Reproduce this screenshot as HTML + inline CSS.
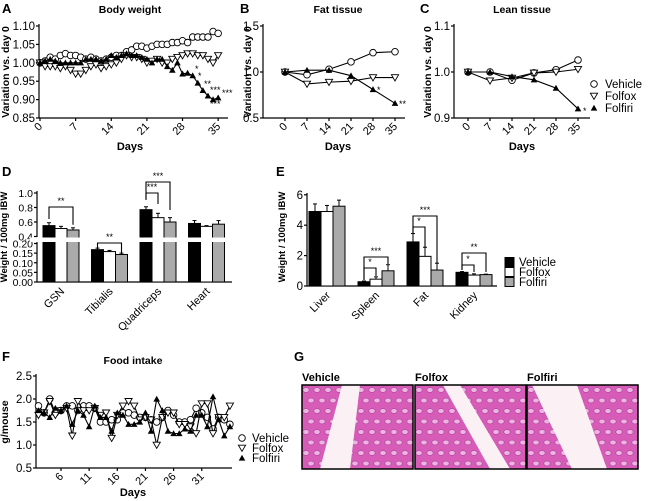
<!DOCTYPE html>
<html><head><meta charset="utf-8"><style>
body{margin:0;background:#fff}
svg{display:block;font-family:"Liberation Sans",Arial,sans-serif}
</style></head><body>
<svg id="fig" width="650" height="501" viewBox="0 0 650 501"></svg>
<script>
// ---- data ----
const daysA=[0,1,2,3,4,5,6,7,8,9,10,11,12,13,14,15,16,17,18,19,20,21,22,23,24,25,26,27,28,29,30,31,32,33,34,35];
const bwVehicle=[1.00,1.005,1.015,1.01,1.02,1.025,1.02,1.02,1.015,1.01,1.015,1.01,1.005,1.01,1.015,1.02,1.02,1.03,1.035,1.045,1.045,1.04,1.045,1.05,1.05,1.05,1.055,1.055,1.06,1.055,1.07,1.07,1.07,1.07,1.085,1.08];
const bwFolfox=[1.0,0.99,0.99,0.99,0.985,0.99,0.98,0.97,0.97,0.98,0.99,0.995,0.985,0.99,0.995,1.0,1.01,1.02,1.015,1.015,1.01,1.0,1.005,1.01,1.0,1.0,1.01,1.015,1.02,1.025,1.025,1.02,1.02,1.01,1.0,1.02];
const bwFolfiri=[1.0,1.005,1.01,1.005,1.0,1.0,1.0,1.0,1.0,1.01,1.01,1.01,1.005,1.01,1.02,1.015,1.02,1.025,1.02,1.02,1.015,1.01,1.0,1.01,1.01,0.99,0.98,1.0,0.97,0.972,0.965,0.945,0.925,0.91,0.90,0.905];
const daysBC=[0,7,14,21,28,35];
const fatVehicle=[1.0,0.97,1.03,1.11,1.21,1.22];
const fatFolfox=[1.0,0.87,0.89,0.90,0.94,0.94];
const fatFolfiri=[1.0,1.02,1.02,0.96,0.81,0.66];
const leanVehicle=[1.0,1.0,0.982,0.998,1.005,1.026];
const leanFolfox=[1.0,0.981,0.987,0.998,1.0,1.006];
const leanFolfiri=[1.0,1.0,0.99,0.983,0.965,0.92];
const muscleCats=["GSN","Tibialis","Quadriceps","Heart"];
const muscleVehicle=[0.55,0.168,0.77,0.58];
const muscleFolfox=[0.51,0.158,0.66,0.54];
const muscleFolfiri=[0.49,0.143,0.60,0.57];
const muscleErr=[[0.04,0.03,0.03],[0.008,0.006,0.007],[0.04,0.06,0.06],[0.04,0.01,0.05]];
const organCats=["Liver","Spleen","Fat","Kidney"];
const organVehicle=[4.9,0.28,2.9,0.9];
const organFolfox=[4.9,0.45,1.95,0.72];
const organFolfiri=[5.25,1.0,1.05,0.75];
const organErr=[[0.5,0.4,0.4],[0.05,0.15,0.4],[0.55,0.6,0.45],[0.05,0.08,0.03]];
const daysF=[2,3,4,5,6,7,8,9,10,11,12,13,14,15,16,17,18,19,20,21,22,23,24,25,26,27,28,29,30,31,32,33,34,35,36];
const foodVehicle=[1.85,1.7,2.0,1.7,1.75,1.85,1.85,1.75,1.85,1.85,1.8,1.5,1.5,1.55,1.55,1.7,1.7,1.65,1.6,1.6,1.55,1.5,1.6,1.75,1.65,1.5,1.5,1.55,1.8,1.7,1.6,1.35,1.6,1.55,1.45];
const foodFolfox=[1.65,1.7,1.95,1.65,1.75,1.8,1.2,1.95,1.75,1.75,1.8,1.65,1.7,1.15,1.65,1.85,1.95,1.85,1.55,1.6,1.55,1.0,1.6,1.7,1.7,1.45,1.45,1.4,1.25,1.9,1.9,1.25,1.6,1.6,1.85];
const foodFolfiri=[1.75,1.7,1.6,1.8,1.75,1.85,1.45,1.75,1.65,1.4,1.85,1.6,1.6,1.3,1.7,1.65,1.45,1.45,1.5,1.7,1.3,2.0,1.75,1.3,1.25,1.25,1.35,1.3,1.65,1.65,1.4,2.05,1.55,1.2,1.4];

const NS="http://www.w3.org/2000/svg";
const svg=document.getElementById('fig');
function mk(tag,a,p){const e=document.createElementNS(NS,tag);for(const k in a)e.setAttribute(k,a[k]);(p||svg).appendChild(e);return e;}
function txt(s,x,y,a,name){const e=mk('text',Object.assign({x:x,y:y,'font-size':11,fill:'#000'},a||{}));e.textContent=s;


return e;}
function line(x1,y1,x2,y2,name,w){const e=mk('line',{x1:x1,y1:y1,x2:x2,y2:y2,stroke:'#000','stroke-width':w||1.2});


return e;}
function marker(type,x,y,name){let e;
 if(type==='circle')e=mk('circle',{cx:x,cy:y,r:3.3,fill:'#fff',stroke:'#000','stroke-width':0.9});
 else if(type==='down')e=mk('path',{d:`M${x-3.6},${y-2.8}L${x+3.6},${y-2.8}L${x},${y+3.4}Z`,fill:'#fff',stroke:'#000','stroke-width':0.9});
 else e=mk('path',{d:`M${x-3.3},${y+2.6}L${x+3.3},${y+2.6}L${x},${y-3.3}Z`,fill:'#000'});
 
 }
function series(xs,ys,fx,fy,type,name){const pts=xs.map((d,i)=>fx(d)+','+fy(ys[i])).join(' ');
 const pl=mk('polyline',{points:pts,fill:'none',stroke:'#000','stroke-width':1.1});
 
 
 xs.forEach((d,i)=>marker(type,fx(d),fy(ys[i]),name+'-point'));}
function xTicks(vals,fx,y0,name){vals.forEach(v=>{line(fx(v),y0,fx(v),y0+3,name+'-tick');
 txt(String(v),fx(v)+3,y0+9,{'text-anchor':'end','font-size':11,transform:`rotate(-45 ${fx(v)+3} ${y0+9})`},name+'-label');});}
function yTicks(vals,fy,x0,name,fmt,fs){vals.forEach(v=>{line(x0-3,fy(v),x0,fy(v),name+'-tick');
 txt(fmt(v),x0-4,fy(v)+4,{'text-anchor':'end','font-size':fs||11.5},name+'-label');});}
function bold(s,x,y,size,name,anchor){return txt(s,x,y,{'font-weight':'bold','font-size':size,'text-anchor':anchor||'start'},name);}

// ---- Panel A ----
const xA=d=>40+d*5.09, yA=v=>26+(1.10-v)/0.25*92;
bold('A',2,13,13,'panel-a-label');
bold('Body weight',130,13,10.5,'panel-a-title','middle');
line(39,24,39,118,'a-y-axis');line(39,118,228,118,'a-x-axis');
yTicks([0.85,0.90,0.95,1.00,1.05,1.10],yA,39,'a-y-tick',v=>v.toFixed(2));
xTicks([0,7,14,21,28,35],xA,118,'a-x-tick');
bold('Days',130,150,11,'a-x-title','middle');
txt('Variation vs. day 0',9,72,{'font-weight':'bold','font-size':10.5,'text-anchor':'middle',transform:'rotate(-90 9 72)'},'a-y-title');
series(daysA,bwVehicle,xA,yA,'circle','a-vehicle');
series(daysA,bwFolfox,xA,yA,'down','a-folfox');
series(daysA,bwFolfiri,xA,yA,'up','a-folfiri');
[['*',195,72],['*',198,79],['**',204,87],['***',210,93],['***',222,96],['***',210,107]].forEach(s=>txt(s[0],s[1],s[2],{'font-size':9},'a-significance'));

// ---- Panel B ----
const xB=d=>285+d*22/7, yB=v=>26+(1.5-v)*92;
bold('B',240,13,13,'panel-b-label');
bold('Fat tissue',338,13,10.5,'panel-b-title','middle');
line(263,24,263,118,'b-y-axis');line(263,118,405,118,'b-x-axis');
yTicks([0.5,1.0,1.5],yB,263,'b-y-tick',v=>v.toFixed(1));
xTicks(daysBC,xB,118,'b-x-tick');
bold('Days',338,150,11,'b-x-title','middle');
txt('Variation vs. day 0',251,72,{'font-weight':'bold','font-size':10.5,'text-anchor':'middle',transform:'rotate(-90 251 72)'},'b-y-title');
series(daysBC,fatVehicle,xB,yB,'circle','b-vehicle');
series(daysBC,fatFolfox,xB,yB,'down','b-folfox');
series(daysBC,fatFolfiri,xB,yB,'up','b-folfiri');
txt('*',377,93,{'font-size':9},'b-significance');txt('**',399,107,{'font-size':9},'b-significance');

// ---- Panel C ----
const xC=d=>468+d*22/7, yC=v=>26+(1.1-v)/0.2*92;
bold('C',420,13,13,'panel-c-label');
bold('Lean tissue',522,13,10.5,'panel-c-title','middle');
line(454,24,454,118,'c-y-axis');line(454,118,590,118,'c-x-axis');
yTicks([0.9,1.0,1.1],yC,454,'c-y-tick',v=>v.toFixed(1));
xTicks(daysBC,xC,118,'c-x-tick');
bold('Days',522,150,11,'c-x-title','middle');
txt('Variation vs. day 0',431,72,{'font-weight':'bold','font-size':10.5,'text-anchor':'middle',transform:'rotate(-90 431 72)'},'c-y-title');
series(daysBC,leanVehicle,xC,yC,'circle','c-vehicle');
series(daysBC,leanFolfox,xC,yC,'down','c-folfox');
series(daysBC,leanFolfiri,xC,yC,'up','c-folfiri');
txt('*',583,114,{'font-size':9},'c-significance');
[['circle','Vehicle',84],['down','Folfox',96],['up','Folfiri',108]].forEach(l=>{marker(l[0],594,l[2],'legend-abc-marker');txt(l[1],605,l[2]+4,{'font-size':11.5},'legend-abc-entry');});

// ---- Panel D ----
const yD=v=>v>=0.4?236.5-(v-0.4)*72.5:282-v*192.5;
const gxD=i=>61+i*48.5;
const fills=['#000','#fff','#aaa'];
bold('D',2,176,13,'panel-d-label');
line(37,191,37,237,'d-y-axis-upper');line(37,242,37,282,'d-y-axis-lower');line(37,282,232,282,'d-x-axis');
yTicks([0.4,0.6,0.8,1.0],yD,37,'d-y-tick',v=>v.toFixed(1),10.5);
yTicks([0.00,0.05,0.10,0.15,0.20],yD,37,'d-y-tick',v=>v.toFixed(2),10.5);
txt('Weight / 100mg IBW',7,237,{'font-weight':'bold','font-size':9.5,'text-anchor':'middle',transform:'rotate(-90 7 237)'},'d-y-title');
[muscleVehicle,muscleFolfox,muscleFolfiri].forEach((ser,s)=>ser.forEach((v,i)=>{
 const x=gxD(i)-18+s*12, top=yD(v), et=yD(v+muscleErr[i][s]);
 line(x+6,top,x+6,et,'d-error-bar',1);line(x+4,et,x+8,et,'d-error-cap',1);
 const r=mk('rect',{x:x,y:top,width:12,height:282-top,fill:fills[s],stroke:'#000','stroke-width':1});
 
 }));
const brk=mk('rect',{x:30,y:237.5,width:205,height:4.5,fill:'#fff'});


muscleCats.forEach((c,i)=>txt(c,gxD(i)+4,292,{'text-anchor':'end','font-size':11,transform:`rotate(-45 ${gxD(i)+4} 292)`},'d-x-label'));
function bracket(x1,x2,y,y1,y2,lab,name){const p=mk('path',{d:`M${x1},${y1}V${y}H${x2}V${y2}`,fill:'none',stroke:'#000','stroke-width':1.1});
 
 
 txt(lab,(x1+x2)/2,y-3,{'font-size':9,'text-anchor':'middle'},name+'-label');}
bracket(gxD(0)-12,gxD(0)+12,207,yD(0.6)-3,yD(0.52)-3,'**','d-bracket-gsn');
bracket(gxD(1)-12,gxD(1)+12,243,248,253,'**','d-bracket-tibialis');
bracket(gxD(2)-12,gxD(2),193,200,204,'***','d-bracket-quad-folfox');
bracket(gxD(2)-12,gxD(2)+12,182,199,210,'***','d-bracket-quad-folfiri');

// ---- Panel E ----
const yE=v=>286-v*15.2;
const gxE=i=>327+i*49;
bold('E',276,176,13,'panel-e-label');
line(307,193,307,286,'e-y-axis');line(307,286,497,286,'e-x-axis');
yTicks([0,2,4,6],yE,307,'e-y-tick',v=>String(v));
txt('Weight / 100mg IBW',285,237,{'font-weight':'bold','font-size':9.5,'text-anchor':'middle',transform:'rotate(-90 285 237)'},'e-y-title');
[organVehicle,organFolfox,organFolfiri].forEach((ser,s)=>ser.forEach((v,i)=>{
 const x=gxE(i)-18+s*12, top=yE(v), et=yE(v+organErr[i][s]);
 line(x+6,top,x+6,et,'e-error-bar',1);line(x+4,et,x+8,et,'e-error-cap',1);
 const r=mk('rect',{x:x,y:top,width:12,height:286-top,fill:fills[s],stroke:'#000','stroke-width':1});
 
 }));
organCats.forEach((c,i)=>txt(c,gxE(i)+4,296,{'text-anchor':'end','font-size':11,transform:`rotate(-45 ${gxE(i)+4} 296)`},'e-x-label'));
bracket(gxE(1)-12,gxE(1),268,280,276,'*','e-bracket-spleen-folfox');
bracket(gxE(1)-12,gxE(1)+12,257,280,264,'***','e-bracket-spleen-folfiri');
bracket(gxE(2)-12,gxE(2),227,233,247,'*','e-bracket-fat-folfox');
bracket(gxE(2)-12,gxE(2)+12,216,233,263,'***','e-bracket-fat-folfiri');
bracket(gxE(3)-12,gxE(3),265,270,272,'*','e-bracket-kidney-folfox');
bracket(gxE(3)-12,gxE(3)+12,253,270,272,'**','e-bracket-kidney-folfiri');
[['Vehicle',262],['Folfox',272],['Folfiri',282]].forEach((l,s)=>{const r=mk('rect',{x:505,y:l[1]-4.5,width:9,height:9,fill:fills[s],stroke:'#000','stroke-width':1});
 
 
 txt(l[0],519,l[1]+4,{'font-size':11.5},'legend-e-entry');});

// ---- Panel F ----
const xF=d=>61+(d-6)*5.63, yF=v=>376+(2.5-v)*46;
bold('F',2,361,13,'panel-f-label');
bold('Food intake',133,364,10.5,'panel-f-title','middle');
line(36,374,36,468,'f-y-axis');line(36,468,232,468,'f-x-axis');
yTicks([0.5,1.0,1.5,2.0,2.5],yF,36,'f-y-tick',v=>v.toFixed(1));
xTicks([6,11,16,21,26,31],xF,468,'f-x-tick');
bold('Days',133,496,11,'f-x-title','middle');
txt('g/mouse',8,422,{'font-weight':'bold','font-size':10.5,'text-anchor':'middle',transform:'rotate(-90 8 422)'},'f-y-title');
series(daysF,foodVehicle,xF,yF,'circle','f-vehicle');
series(daysF,foodFolfox,xF,yF,'down','f-folfox');
series(daysF,foodFolfiri,xF,yF,'up','f-folfiri');
[['circle','Vehicle',438],['down','Folfox',448],['up','Folfiri',458]].forEach(l=>{marker(l[0],242,l[2],'legend-f-marker');txt(l[1],252,l[2]+4,{'font-size':11.5},'legend-f-entry');});

// ---- Panel G ----
bold('G',294,361,13,'panel-g-label');
const imgs=[['Vehicle',302],['Folfox',415],['Folfiri',527]];
const bands=[[[40,0],[58,0],[48,84],[18,84]],[[28,0],[45,0],[95,84],[75,84]],[[5,0],[50,0],[80,84],[45,84]]];
imgs.forEach((im,k)=>{const x0=im[1],y0=385,w=111,h=84;
 bold(im[0],x0,381,11,'g-label-'+im[0].toLowerCase());
 const g=mk('g',{});
 
 
 mk('rect',{x:x0,y:y0,width:w,height:h,fill:'#d65cb8'},g);
 for(let r=0;r<8;r++)for(let c=0;c<10;c++){mk('ellipse',{cx:x0+4+c*11+(r%2)*5,cy:y0+5+r*10.5,rx:3.2,ry:2.4,fill:'#eeb3e0',stroke:'#a8409a','stroke-width':0.6},g);}
 mk('polygon',{points:bands[k].map(p=>(x0+p[0])+','+(y0+p[1])).join(' '),fill:'#fbf1f4'},g);
 mk('rect',{x:x0,y:y0,width:w,height:h,fill:'none',stroke:'#000','stroke-width':1.5},g);});
</script>
</body></html>
